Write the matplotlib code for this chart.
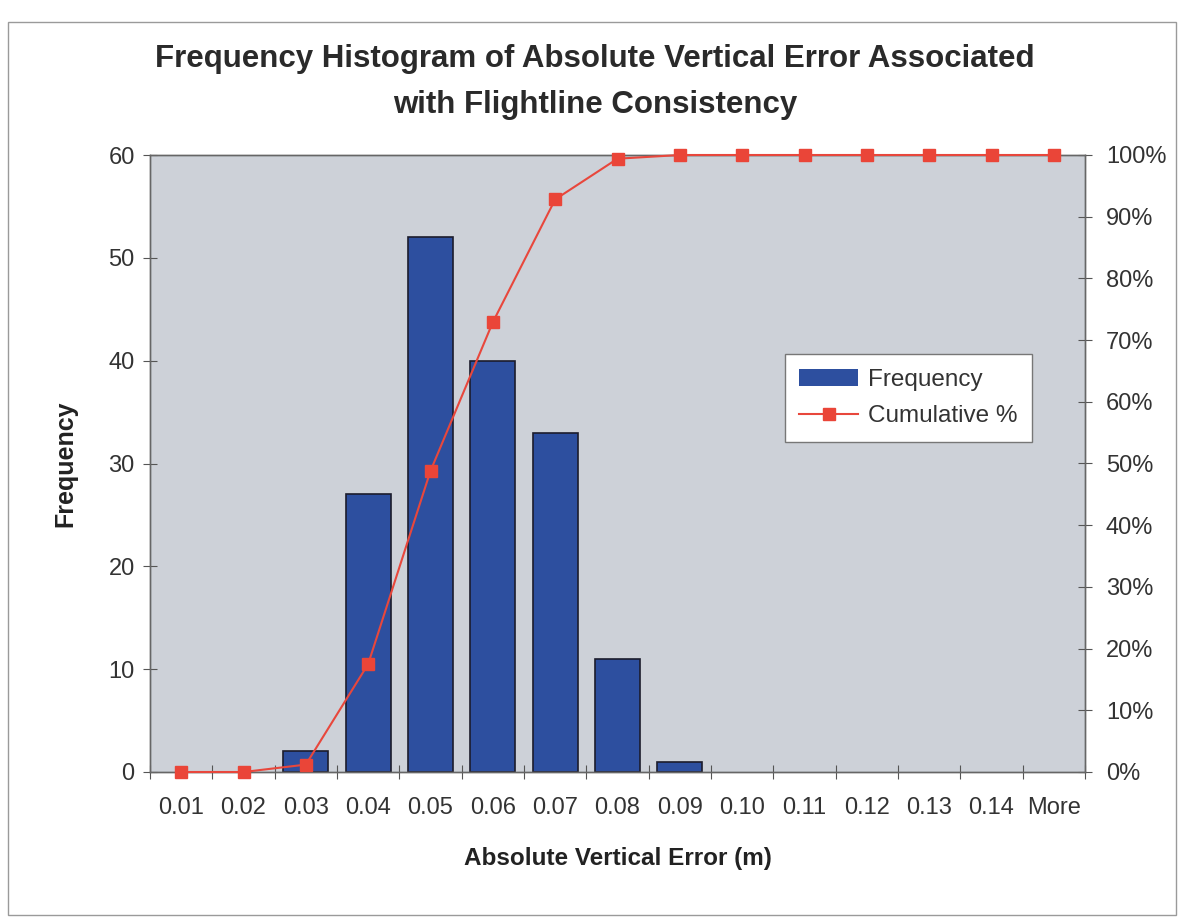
import matplotlib
matplotlib.use("Agg")
import matplotlib.pyplot as plt
from matplotlib.ticker import PercentFormatter, FixedLocator
from matplotlib.patches import Rectangle
import numpy as np

categories = ["0.01", "0.02", "0.03", "0.04", "0.05", "0.06", "0.07", "0.08",
              "0.09", "0.10", "0.11", "0.12", "0.13", "0.14", "More"]
frequency = [0, 0, 2, 27, 52, 40, 33, 11, 1, 0, 0, 0, 0, 0, 0]
cumulative_pct = [0.0, 0.0, 1.2, 17.5, 48.8, 72.9, 92.8, 99.4, 100.0,
                  100.0, 100.0, 100.0, 100.0, 100.0, 100.0]

plt.rcParams['font.family'] = ['Liberation Sans', 'DejaVu Sans']

fig = plt.figure(figsize=(11.84, 9.18), dpi=100)
fig.patch.set_facecolor('white')

# outer chart border
fig.patches.append(Rectangle((8/1184, 3/918), 1168/1184, 893/918, transform=fig.transFigure,
                             fill=False, edgecolor='#9a9a9a', linewidth=1.0))

ax = fig.add_axes([150/1184, 1 - 772/918, 935/1184, 617/918])
ax.set_facecolor('#cdd1d8')

x = np.arange(len(categories))
edge_widths = [1.2 if f > 0 else 0.0 for f in frequency]
bars = ax.bar(x, frequency, width=0.72, color='#2d4f9f', edgecolor='#1c1c2c',
              linewidth=edge_widths, label='Frequency', zorder=2)
ax.set_xlim(-0.5, len(categories) - 0.5)
ax.set_ylim(0, 60)
ax.set_yticks(range(0, 61, 10))
ax.tick_params(axis='y', direction='inout', length=10, labelsize=17,
               labelcolor='#333333', color='#555555', pad=6)

ax.xaxis.set_major_locator(FixedLocator(np.arange(-0.5, len(categories), 1.0)))
ax.xaxis.set_major_formatter(plt.NullFormatter())
ax.xaxis.set_minor_locator(FixedLocator(x))
ax.set_xticklabels(categories, minor=True)
ax.tick_params(axis='x', which='major', direction='inout', length=10, color='#555555')
ax.tick_params(axis='x', which='minor', length=0, labelsize=17,
               labelcolor='#333333', pad=18)

for sp in ax.spines.values():
    sp.set_color('#666666')
    sp.set_linewidth(1.0)

ax2 = ax.twinx()
line, = ax2.plot(x, [v / 100 for v in cumulative_pct], color='#e8473c', linewidth=1.5,
                 marker='s', markersize=9, markerfacecolor='#ea4538',
                 markeredgecolor='#ea4538', label='Cumulative %', zorder=3,
                 clip_on=False)
ax2.set_ylim(0, 1)
ax2.set_yticks(np.arange(0, 1.01, 0.1))
ax2.yaxis.set_major_formatter(PercentFormatter(1.0, decimals=0))
ax2.tick_params(axis='y', direction='inout', length=10, labelsize=17,
                labelcolor='#333333', color='#555555', pad=10)
for sp in ax2.spines.values():
    sp.set_color('#666666')
    sp.set_linewidth(1.0)

ax.set_xlabel('Absolute Vertical Error (m)', fontsize=17.5, fontweight='bold',
              color='#222222', labelpad=20)
ax.set_ylabel('Frequency', fontsize=18, fontweight='bold', color='#222222', labelpad=22)

fig.text(595/1184, 1 - 82/918,
         'Frequency Histogram of Absolute Vertical Error Associated\nwith Flightline Consistency',
         ha='center', va='center', fontsize=22.5, fontweight='bold', color='#2a2a2a',
         linespacing=1.7)

leg = ax.legend(handles=[bars, line], labels=['Frequency', 'Cumulative %'],
                loc='upper left', bbox_to_anchor=(0.666, 0.697), fontsize=17.5,
                frameon=True, fancybox=False, framealpha=1, edgecolor='#777777',
                handlelength=2.4, borderpad=0.6, labelspacing=0.6, handletextpad=0.4)
leg.get_frame().set_linewidth(1.0)
for t in leg.get_texts():
    t.set_color('#333333')

fig.savefig('out.png', dpi=100)
